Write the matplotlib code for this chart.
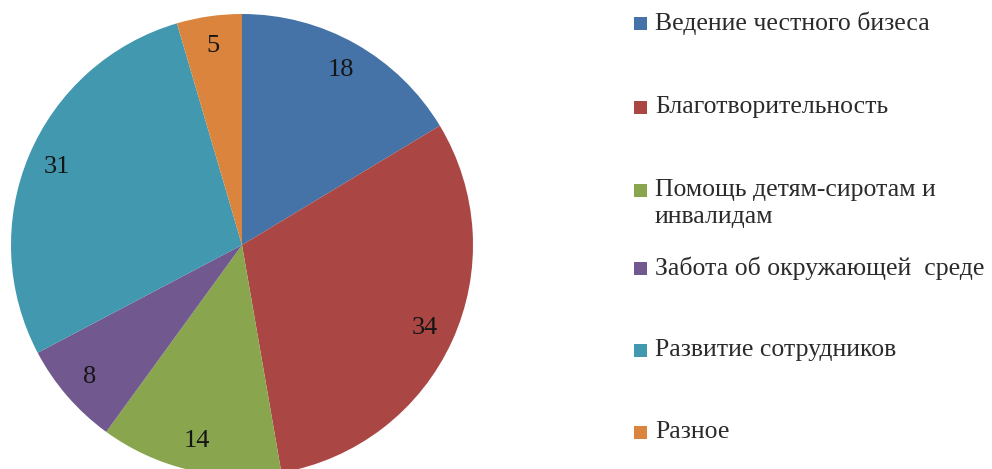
import matplotlib
matplotlib.use("Agg")
from matplotlib import pyplot as plt
from matplotlib.patches import Rectangle

labels = [
    "Ведение честного бизеса",
    "Благотворительность",
    "Помощь детям-сиротам и\nинвалидам",
    "Забота об окружающей  среде",
    "Развитие сотрудников",
    "Разное",
]
values = [18, 34, 14, 8, 31, 5]
colors = ["#4572A7", "#AA4643", "#89A54E", "#71588F", "#4198AF", "#DB843D"]

plt.rcParams["font.family"] = ["Liberation Serif", "DejaVu Serif"]

W, H = 992, 469
fig = plt.figure(figsize=(W / 100, H / 100), dpi=100)

# pie centre ~ (242, 245) px, radius ~231 px
cx, cy, r = 242, 245, 231
ax = fig.add_axes([(cx - r) / W, (H - cy - r) / H, 2 * r / W, 2 * r / H])
wedges, texts = ax.pie(
    values,
    colors=colors,
    startangle=90,
    counterclock=False,
    labels=[str(v) for v in values],
    labeldistance=0.87,
    textprops=dict(fontsize=19, color="#151515"),
    wedgeprops=dict(linewidth=0),
)
for t in texts:
    t.set_horizontalalignment("center")
    t.set_verticalalignment("center")
ax.set_xlim(-1, 1)
ax.set_ylim(-1, 1)
ax.set_aspect("equal")
ax.axis("off")

# legend drawn by hand
rows_y = [23, 107, 190, 268, 350, 432]
line_gap = 27
for lab, col, y in zip(labels, colors, rows_y):
    fig.patches.append(
        Rectangle((634 / W, 1 - (y + 7) / H), 13 / W, 13 / H,
                  transform=fig.transFigure, facecolor=col, edgecolor="none")
    )
    for i, part in enumerate(lab.split("\n")):
        fig.text(655 / W, 1 - (y + i * line_gap) / H, part, fontsize=18.5,
                 color="#2b2b2b", ha="left", va="center")

fig.savefig("out.png", dpi=100)
